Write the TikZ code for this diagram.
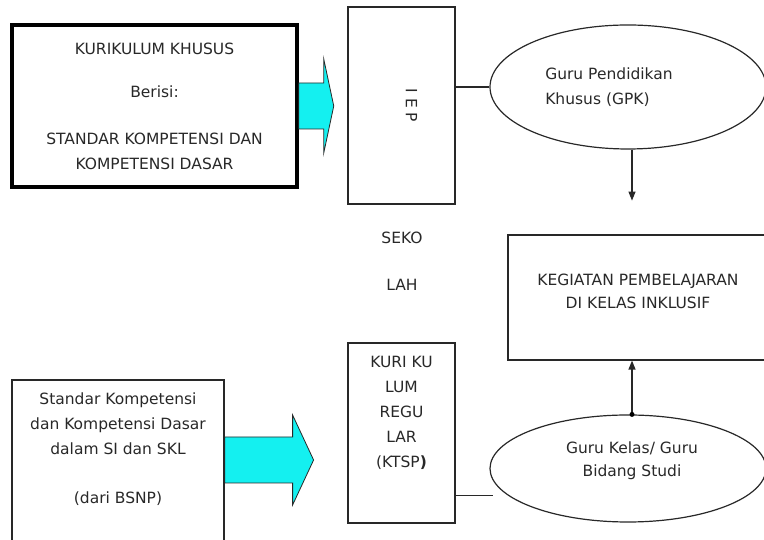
\documentclass[tikz,border=0pt]{standalone}
\usepackage{fontspec}
\setmainfont{DejaVu Sans}
\usetikzlibrary{arrows.meta,positioning,calc,shapes.geometric}

\definecolor{ink}{RGB}{40,40,40}
\definecolor{arrowfill}{RGB}{20,240,240}

\begin{document}
\begin{tikzpicture}[
  x=1pt, y=1pt,
  font=\fontsize{15.5}{25}\selectfont,
  text=ink,
  >={Triangle[length=9pt,width=7pt]},
  box/.style={draw=ink, line width=1.2pt, align=center},
  thickbox/.style={draw=black, line width=3.5pt, align=center},
  oval/.style={draw=ink, line width=1.2pt, ellipse, align=left},
  blockarrow/.style={draw=ink, line width=0.8pt, fill=arrowfill},
  link/.style={draw=ink, line width=1.2pt},
  dot/.style={circle, fill=black, inner sep=0pt, minimum size=5pt},
]
\useasboundingbox (0,0) rectangle (764,540);
\clip (0,0) rectangle (764,540);

% Curriculum boxes on the left
\node[thickbox, minimum width=285, minimum height=162] (KK) at (154.5,434)
  {KURIKULUM KHUSUS\\[18pt]Berisi:\\[22pt]STANDAR KOMPETENSI DAN\\KOMPETENSI DASAR};
\node[box, minimum width=212, minimum height=168] (SK) at (118,76) {};
\node[anchor=north, align=center] at ([yshift=-10pt]SK.north)
  {Standar Kompetensi\\dan Kompetensi Dasar\\dalam SI dan SKL\\[24pt](dari BSNP)};

% School column: IEP and regular curriculum
\node[box, minimum width=107, minimum height=197] (IEP) at (401.5,434.5) {};
\node[rotate=-90] (IEPtext) at ($(IEP.center)+(10,0)$) {I E P};
\node[align=center] (SEKOLAH) at (402,279) {SEKO\\[22pt]LAH};
\node[box, minimum width=107, minimum height=180] (KR) at (401.5,107) {};
\node[anchor=north, align=center] at ([yshift=-10pt]KR.north)
  {KURI KU\\LUM\\REGU\\LAR\\(KTSP\textbf{)}};

% Teachers and learning activity on the right
\node[oval, minimum width=276, minimum height=124] (GPK) at (628,453)
  {\hspace*{-38pt}\begin{tabular}{@{}l@{}}Guru Pendidikan\\Khusus (GPK)\end{tabular}};
\node[box, minimum width=260, minimum height=125] (KEG) at (638,242.5) {};
\node[align=center] at ([yshift=6pt]KEG.center)
  {KEGIATAN PEMBELAJARAN\\[-2pt]DI KELAS INKLUSIF};
\node[oval, align=center, minimum width=276, minimum height=107] (GKL) at (628,71.5) {};
\node[align=center] at ([yshift=8pt,xshift=4pt]GKL.center) {Guru Kelas/ Guru\\[-2pt]Bidang Studi};

% Block arrows into the school column
\draw[blockarrow] ($(KK.east)+(0,23)$) -- ++(25,0) -- ++(0,24) -- ++(10,-47)
  -- ++(-10,-47) -- ++(0,24) -- ++(-25,0) -- cycle;
\draw[blockarrow] ($(SK.east)+(0,27)$) -- ++(68,0) -- ++(0,22) -- ++(21,-45)
  -- ++(-21,-45) -- ++(0,22) -- ++(-68,0) -- cycle;

% Connectors
\coordinate (gpkend) at ($(GPK.south)+(4,-51)$);
\draw[link] (GPK.west) -- (GPK.west -| IEP.east);
\draw[link, ->] (GPK.south -| gpkend) -- (gpkend);
\coordinate (krend) at ($(KR.south east)+(37,28)$);
\draw[link] (KR.east |- krend) -- (krend);
\node[dot] (GKLtop) at ($(GKL.north)+(4,0)$) {};
\draw[link, ->] (GKLtop) -- (GKLtop |- KEG.south);

\end{tikzpicture}
\end{document}
